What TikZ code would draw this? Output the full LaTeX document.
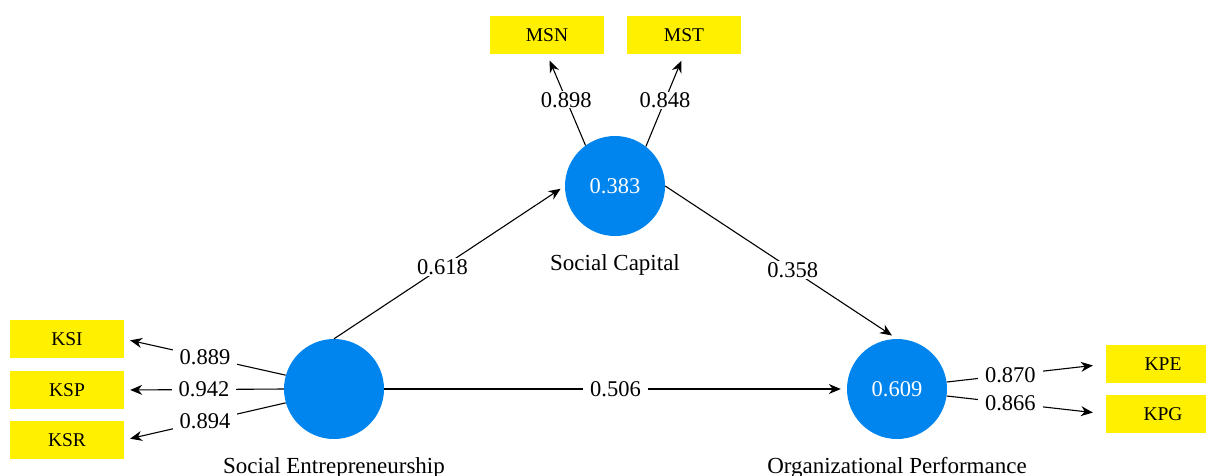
\documentclass[tikz,border=0pt]{standalone}
\usepackage{fontspec}
\setmainfont{Liberation Serif}
\usetikzlibrary{arrows.meta}
\definecolor{plsblue}{RGB}{0,132,237}
\definecolor{plsyellow}{RGB}{255,240,0}
\tikzset{construct/.style = {circle, fill=plsblue, minimum size=100pt, inner sep=0pt, text=white, font=\fontsize{22.5}{26}\selectfont}}
\tikzset{indicator/.style = {rectangle, fill=plsyellow, minimum width=114pt, minimum height=38pt, inner sep=0pt, font=\fontsize{19.5}{23}\selectfont}}
\tikzset{caption/.style = {anchor=base, font=\fontsize{23}{27}\selectfont}}
\tikzset{arrow/.style = {line width=1.1pt,-{Stealth[length=12pt,width=10pt]}}}
\tikzset{coef/.style = {fill=white, inner xsep=7pt, inner ysep=1pt, font=\fontsize{22.5}{26}\selectfont}}

\begin{document}
\begin{tikzpicture}[x=1pt,y=-1pt]
\useasboundingbox (0,0) rectangle (1206,475);

% constructs
\node[construct] (se) at (334,389) {};
\node[construct] (sc) at (615,186) {0.383};
\node[construct] (op) at (897,389) {0.609};
\node[caption] (selab) at (334,473) {Social Entrepreneurship};
\node[caption] (sclab) at (615,270) {Social Capital};
\node[caption] (oplab) at (897,473) {Organizational Performance};

% indicators
\node[indicator] (ksi) at (67,339) {KSI};
\node[indicator] (ksp) at (67,390) {KSP};
\node[indicator] (ksr) at (67,440) {KSR};
\node[indicator] (msn) at (547,35) {MSN};
\node[indicator] (mst) at (684,35) {MST};
\node[indicator] (kpe) at (1163,364) {KPE};
\node[indicator] (kpg) at (1163,414) {KPG};

% paths
\draw[arrow, shorten >=5pt] (se.north) -- node[coef, pos=0.47] (p1) {0.618} (sc.west);
\draw[arrow, shorten >=6pt] (sc.east) -- node[coef, pos=0.55] (p2) {0.358} (op.north);
\draw[arrow, shorten >=6pt] (se.east) -- node[coef] (p3) {0.506} (op.west);

% loadings
\draw[arrow, shorten >=6pt] (se.164) -- node[coef] (l1) {0.889} (ksi.east);
\draw[arrow, shorten >=6pt] (se.west) -- node[coef] (l2) {0.942} (ksp.east);
\draw[arrow, shorten >=6pt] (se.196) -- node[coef] (l3) {0.894} (ksr.east);
\draw[arrow, shorten >=7pt] (sc.126) -- node[coef] (l4) {0.898} (msn.south);
\draw[arrow, shorten >=7pt] (sc.52) -- node[coef] (l5) {0.848} (mst.south);
\draw[arrow, shorten >=13pt] (op.8) -- node[coef, pos=0.4] (l6) {0.870} (kpe.west);
\draw[arrow, shorten >=13pt] (op.-8) -- node[coef, pos=0.4] (l7) {0.866} (kpg.west);
\end{tikzpicture}
\end{document}
